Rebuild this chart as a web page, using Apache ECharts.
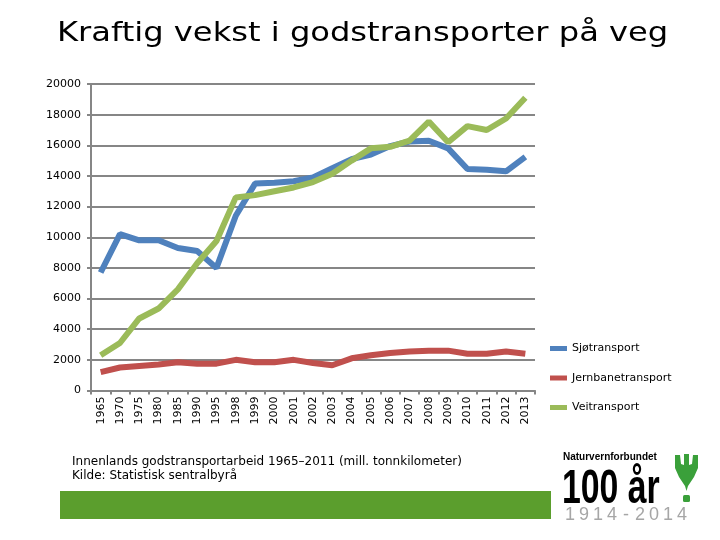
<!DOCTYPE html>
<html>
<head>
<meta charset="utf-8">
<script src="https://cdn.jsdelivr.net/npm/echarts@6/dist/echarts.min.js"></script>
<style>html,body{margin:0;padding:0;background:#fff}#c{width:720px;height:540px}</style>
</head>
<body>
<div id="c"></div>
<script>
var categories = ['1965','1970','1975','1980','1985','1990','1995','1998','1999','2000','2001','2002','2003','2004','2005','2006','2007','2008','2009','2010','2011','2012','2013'];
var sjotransport = [7700,10200,9800,9800,9300,9100,8000,11400,13500,13550,13650,13900,14500,15100,15400,15950,16250,16300,15800,14450,14400,14300,15250];
var jernbanetransport = [1200,1500,1600,1700,1850,1750,1750,2000,1850,1850,2000,1800,1650,2100,2300,2450,2550,2600,2600,2400,2400,2550,2400];
var veitransport = [2300,3100,4700,5350,6600,8300,9750,12600,12750,13000,13250,13600,14150,15000,15800,15900,16300,17550,16200,17250,17000,17750,19100];
var yTicks = {min:0, max:20000, interval:2000};
var titleText = 'Kraftig vekst i godstransporter på veg';
var noteLines = ['Innenlands godstransportarbeid 1965–2011 (mill. tonnkilometer)', 'Kilde: Statistisk sentralbyrå'];
var logoYears = '1914-2014';

var chart = echarts.init(document.getElementById('c'));
var font = 'DejaVu Sans, Verdana, sans-serif';
function mk(name, data, color){
  return {name:name, type:'line', data:data, symbol:'none', smooth:false,
    lineStyle:{width:6, color:color}, itemStyle:{color:color}, z:3};
}
var leaf = '#3aa03a';
var graphics = [
  {type:'text', x:57, y:20.5, scaleX:1.19, style:{text:titleText, font:'27px '+font, fill:'#000'}},
  {type:'text', x:72, y:455, style:{text:noteLines.join('\n'), font:'12px '+font, fill:'#000', lineHeight:14}},
  {type:'rect', shape:{x:60, y:491, width:491, height:28}, style:{fill:'#5B9E2D'}},
  {type:'text', x:563, y:452, style:{text:'Naturvernforbundet', font:'bold 10px "Liberation Sans", Arial, sans-serif', fill:'#000'}},
  {type:'text', x:562, y:465, scaleX:0.69, style:{text:'100 år', font:'bold 49px "Liberation Sans", Arial, sans-serif', fill:'#000'}},
  {type:'polygon', shape:{points:[[675,455],[680,455],[681,464],[684,465],[684,454],[689,454],[689,465],[692,464],[693,455],[698,455],[698,468],[694,477],[688,486],[686.5,491],[685,486],[679,477],[675,468]]}, style:{fill:leaf}},
  {type:'rect', shape:{x:683, y:495, width:7, height:7, r:1.5}, style:{fill:leaf}}
];
for (var i = 0; i < logoYears.length; i++) {
  graphics.push({type:'text', x:570 + 14*i, y:506, style:{text:logoYears[i], font:'18px "Liberation Sans", Arial, sans-serif', fill:'#a6a6a6', align:'center'}});
}
chart.setOption({
  animation:false,
  legend:{orient:'vertical', left:550, top:343, padding:0, itemWidth:17, itemHeight:5, itemGap:18.5,
    icon:'rect',
    textStyle:{fontFamily:font, fontSize:11, color:'#000'},
    data:['Sjøtransport','Jernbanetransport','Veitransport']},
  grid:{left:91, top:84, right:185, bottom:149.5, containLabel:false},
  xAxis:{type:'category', data:categories, boundaryGap:true,
    axisLine:{lineStyle:{color:'#868686', width:2}},
    axisTick:{show:true, length:4, lineStyle:{color:'#868686', width:2}},
    axisLabel:{rotate:90, fontFamily:font, fontSize:11, color:'#000', margin:6, interval:0}},
  yAxis:{type:'value', min:yTicks.min, max:yTicks.max, interval:yTicks.interval,
    axisLine:{show:true, lineStyle:{color:'#868686', width:2}},
    axisTick:{show:true, length:4, lineStyle:{color:'#868686', width:2}},
    splitLine:{lineStyle:{color:'#868686', width:2}},
    axisLabel:{fontFamily:font, fontSize:11, color:'#000', margin:10, formatter:function(v){return String(v);}}},
  series:[mk('Sjøtransport', sjotransport, '#4F81BD'),
          mk('Jernbanetransport', jernbanetransport, '#C0504D'),
          mk('Veitransport', veitransport, '#9BBB59')],
  graphic:graphics
});
</script>
</body>
</html>
